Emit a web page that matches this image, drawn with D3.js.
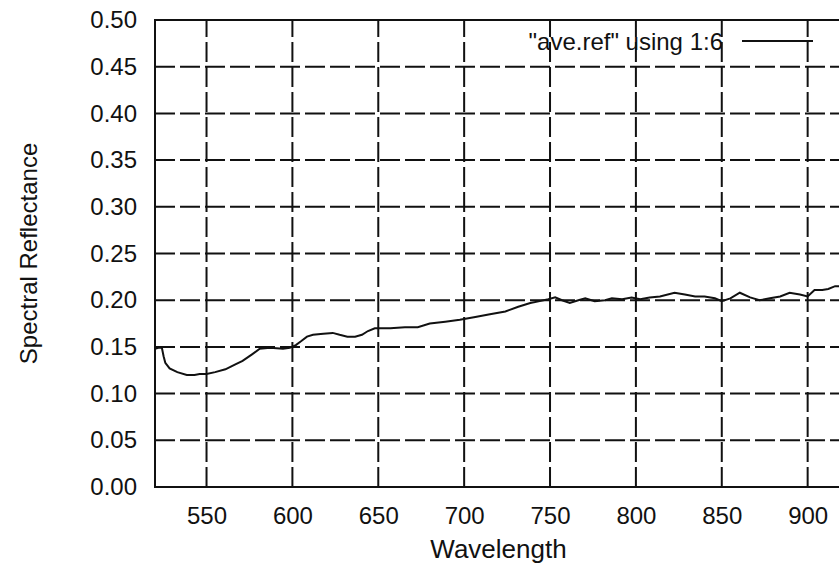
<!DOCTYPE html>
<html>
<head>
<meta charset="utf-8">
<script src="https://cdn.jsdelivr.net/npm/d3@7"></script>
<style>
  body { margin: 0; background: #fff; }
  text { font-family: "Liberation Sans", Arial, Helvetica, sans-serif; fill: #111; }
</style>
</head>
<body>
<div id="chart"></div>
<script>
// data
var wavelength = [520, 522, 524, 525, 526, 528.5, 533, 538.5, 543, 546, 550, 555, 561, 566.5, 571,
  576.5, 581, 587, 594.5, 598.5, 602, 605, 608.5, 612, 618, 623.5, 627.5, 632, 636.5, 640.5,
  644, 648, 657, 665.5, 673, 680, 689, 697.5, 706.5, 715, 724, 731.5, 738.5, 744, 749,
  753, 757, 761.5, 766.5, 770.5, 776, 782, 786, 792, 797.5, 802.5, 808, 814, 822.5, 828.5,
  834.5, 840, 846, 850, 855, 860.5, 866.5, 872, 878, 884, 889.5, 895.5, 900, 904, 908.5,
  912, 916, 920];
var reflectance = [0.148, 0.149, 0.149, 0.140, 0.133, 0.127, 0.123, 0.120, 0.120, 0.121, 0.121, 0.123, 0.126, 0.131, 0.135,
  0.142, 0.148, 0.149, 0.148, 0.149, 0.152, 0.156, 0.161, 0.163, 0.164, 0.165, 0.163, 0.161, 0.161, 0.163,
  0.167, 0.170, 0.170, 0.171, 0.171, 0.175, 0.177, 0.179, 0.182, 0.185, 0.188, 0.193, 0.197, 0.199, 0.201,
  0.203, 0.200, 0.197, 0.200, 0.202, 0.199, 0.200, 0.202, 0.201, 0.203, 0.201, 0.203, 0.204, 0.208, 0.206,
  0.204, 0.204, 0.202, 0.199, 0.202, 0.208, 0.203, 0.200, 0.202, 0.204, 0.208, 0.206, 0.204, 0.211, 0.211,
  0.212, 0.215, 0.215];
var xTicks = [550, 600, 650, 700, 750, 800, 850, 900];
var yTicks = [0, 0.05, 0.10, 0.15, 0.20, 0.25, 0.30, 0.35, 0.40, 0.45, 0.50];
var seriesName = '"ave.ref" using 1:6';

// chart dimensions (plot box runs a few px past the right edge)
var width = 839;
var height = 571;
var plotLeft = 155, plotTop = 20, plotRight = 842, plotBottom = 487;

var x = d3.scaleLinear().domain([520, 920]).range([plotLeft, plotRight]);
var y = d3.scaleLinear().domain([0, 0.5]).range([plotBottom, plotTop]);

var svg = d3.select('#chart')
  .append('svg')
  .attr('width', width)
  .attr('height', height);

// dashed grid
svg.selectAll('.hgrid')
  .data(yTicks.slice(1, -1))
  .enter()
  .append('line')
  .attr('x1', plotLeft).attr('x2', plotRight)
  .attr('y1', function(d) { return y(d); })
  .attr('y2', function(d) { return y(d); })
  .attr('stroke', '#111')
  .attr('stroke-width', 2)
  .attr('stroke-dasharray', '20,5');

svg.selectAll('.vgrid')
  .data(xTicks)
  .enter()
  .append('line')
  .attr('x1', function(d) { return x(d); })
  .attr('x2', function(d) { return x(d); })
  .attr('y1', plotBottom).attr('y2', plotTop)
  .attr('stroke', '#111')
  .attr('stroke-width', 2)
  .attr('stroke-dasharray', '20,5');

// axes, only labels, gnuplot style
var xAxis = svg.append('g')
  .attr('transform', 'translate(0,' + plotBottom + ')')
  .call(d3.axisBottom(x).tickValues(xTicks).tickSize(0).tickPadding(20).tickFormat(d3.format('d')));
var yAxis = svg.append('g')
  .attr('transform', 'translate(' + (plotLeft - 18) + ',0)')
  .call(d3.axisLeft(y).tickValues(yTicks).tickSize(0).tickPadding(0).tickFormat(d3.format('.2f')));
[xAxis, yAxis].forEach(function(a) {
  a.select('.domain').remove();
  a.selectAll('text').style('font-size', '24px').attr('fill', '#111')
    .style('font-family', '"Liberation Sans", Arial, sans-serif');
});

// border
svg.append('rect')
  .attr('x', plotLeft).attr('y', plotTop)
  .attr('width', plotRight - plotLeft).attr('height', plotBottom - plotTop)
  .attr('fill', 'none')
  .attr('stroke', '#111')
  .attr('stroke-width', 2);

// the series
var points = wavelength.map(function(w, i) { return [w, reflectance[i]]; });
var line = d3.line()
  .x(function(d) { return x(d[0]); })
  .y(function(d) { return y(d[1]); });

svg.append('path')
  .datum(points)
  .attr('d', line)
  .attr('fill', 'none')
  .attr('stroke', '#111')
  .attr('stroke-width', 2);

// key
svg.append('text')
  .attr('x', 723).attr('y', 50)
  .attr('text-anchor', 'end')
  .style('font-size', '24px')
  .text(seriesName);
svg.append('line')
  .attr('x1', 742).attr('x2', 813)
  .attr('y1', 41).attr('y2', 41)
  .attr('stroke', '#111')
  .attr('stroke-width', 2);

// axis titles
svg.append('text')
  .attr('x', (plotLeft + plotRight) / 2).attr('y', 558)
  .attr('text-anchor', 'middle')
  .style('font-size', '26px')
  .text('Wavelength');
svg.append('text')
  .attr('transform', 'translate(37,' + ((plotTop + plotBottom) / 2) + ') rotate(-90)')
  .attr('text-anchor', 'middle')
  .style('font-size', '24px')
  .text('Spectral Reflectance');
</script>
</body>
</html>
